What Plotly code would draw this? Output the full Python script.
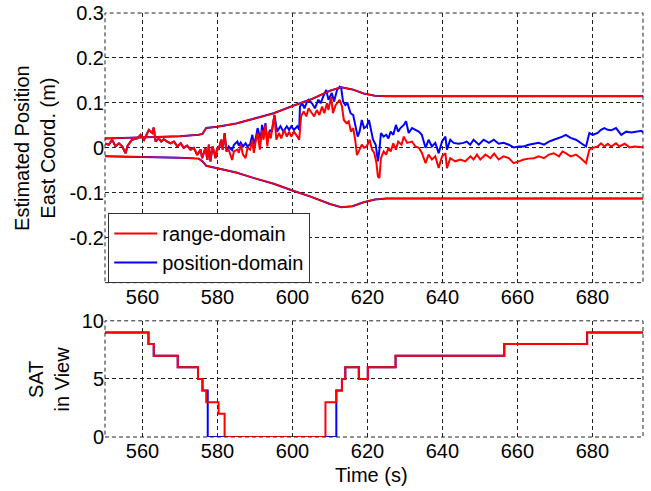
import plotly.graph_objects as go

# ---------------- data ----------------
# error bounds (shared by both methods)
bound_t = [550, 560, 570, 575, 576, 577, 580, 585, 590, 595, 600, 605, 610, 613, 616, 619, 622, 625, 693.5]
bound_upper = [0.021, 0.023, 0.026, 0.029, 0.031, 0.044, 0.047, 0.054, 0.065, 0.077, 0.093, 0.108, 0.127, 0.135, 0.130, 0.121, 0.116, 0.115, 0.115]
bound_lower = [-0.019, -0.020, -0.022, -0.024, -0.030, -0.040, -0.045, -0.055, -0.068, -0.080, -0.095, -0.109, -0.125, -0.132, -0.130, -0.121, -0.115, -0.113, -0.113]

# range-domain estimate
range_t = [550.0, 551.0, 551.9, 552.8, 553.7, 554.6, 555.5, 556.0, 557.2, 558.6, 559.5, 560.4, 561.3, 561.7,
           562.6, 563.0, 563.5, 564.4, 565.0, 565.7, 566.6, 567.5, 568.4, 569.3, 570.2, 571.0, 571.9, 572.8,
           573.7, 574.6, 575.5, 575.9, 576.8, 577.3, 577.7, 578.1, 578.7, 579.5, 579.9, 580.3, 581.0, 581.4,
           581.9, 582.4, 583.0, 583.9, 584.4, 585.3, 585.7, 586.2, 586.8, 587.5, 588.0, 588.7, 589.3, 589.7,
           590.2, 590.7, 591.3, 591.9, 592.3, 592.8, 593.3, 593.7, 594.2, 594.8, 595.2, 595.7, 596.4, 597.0,
           597.8, 598.5, 599.1, 599.7, 600.4, 601.3, 601.8, 602.3, 603.0, 603.7, 604.3, 605.2, 605.8, 606.5,
           607.2, 607.9, 608.5, 609.2, 609.6, 610.3, 610.8, 611.5, 612.1, 612.6, 613.2, 613.7, 614.4, 615.0,
           615.6, 616.2, 616.8, 617.2, 617.9, 618.5, 619.1, 619.8, 620.6, 621.2, 621.8, 622.4, 622.8, 623.2,
           623.6, 624.3, 625.0, 625.6, 626.2, 626.9, 627.6, 628.2, 629.1, 629.7, 630.6, 631.9, 632.8, 633.7,
           634.5, 635.5, 636.3, 637.2, 638.1, 639.0, 639.9, 640.8, 641.2, 642.1, 643.4, 644.8, 646.1, 647.5,
           648.3, 649.2, 650.1, 651.5, 652.8, 653.8, 655.0, 656.3, 657.7, 659.0, 660.4, 661.7, 663.0, 664.4,
           665.7, 667.1, 668.4, 669.7, 671.1, 672.0, 672.9, 674.2, 675.6, 676.9, 678.3, 679.2, 680.1, 681.4,
           682.3, 683.2, 684.1, 685.0, 686.3, 687.2, 688.6, 689.9, 691.2, 692.6, 693.5]
range_v = [0.010, 0.007, 0.018, 0.003, 0.010, 0.003, -0.012, 0.004, 0.018, 0.021, 0.029, 0.018, 0.033, 0.040,
           0.033, 0.045, 0.014, 0.021, 0.014, 0.019, 0.014, 0.010, 0.014, 0.003, 0.010, 0.000, 0.005, -0.004,
           0.000, -0.016, -0.004, -0.023, 0.000, -0.027, 0.007, -0.030, 0.003, -0.023, 0.000, -0.004, 0.018, -0.004,
           0.033, -0.008, -0.004, -0.027, -0.008, -0.004, -0.011, 0.007, -0.015, -0.023, 0.000, -0.004, 0.018, -0.011,
           0.014, 0.033, -0.004, 0.040, 0.018, 0.051, 0.003, 0.036, 0.021, 0.051, 0.073, 0.018, 0.033, 0.021,
           0.040, 0.025, 0.036, 0.025, 0.036, 0.025, 0.018, 0.070, 0.081, 0.070, 0.088, 0.077, 0.070, 0.084,
           0.073, 0.092, 0.077, 0.099, 0.084, 0.114, 0.077, 0.095, 0.103, 0.107, 0.092, 0.062, 0.055, 0.059,
           0.036, 0.044, 0.014, -0.016, -0.004, 0.007, 0.000, 0.003, 0.018, -0.004, -0.011, -0.034, -0.064, -0.067,
           -0.023, -0.008, -0.015, 0.000, -0.008, 0.010, -0.004, 0.014, 0.007, 0.025, 0.011, 0.014, 0.003, 0.000,
           -0.011, -0.034, -0.015, -0.026, -0.019, -0.045, -0.019, -0.012, -0.045, -0.023, -0.030, -0.026, -0.030, -0.019,
           -0.026, -0.015, -0.026, -0.015, -0.023, -0.013, -0.026, -0.019, -0.023, -0.034, -0.030, -0.026, -0.024, -0.023,
           -0.019, -0.023, -0.015, -0.012, -0.019, -0.008, -0.012, -0.019, -0.015, -0.023, -0.034, -0.004, 0.000, 0.003,
           0.010, 0.003, 0.009, 0.003, 0.010, 0.003, 0.009, 0.001, 0.003, 0.002, 0.001]

# position-domain estimate (identical to range-domain before 583 s)
pos_t_late = [583.0, 583.9, 584.4, 585.3, 585.7, 586.2, 586.8, 587.5, 588.0, 588.7, 589.3, 589.7, 590.2, 590.7,
              591.5, 591.9, 592.3, 592.8, 593.3, 594.0, 594.5, 595.2, 595.9, 596.8, 597.6, 598.5, 599.1, 599.7,
              600.4, 601.3, 601.8, 602.0, 602.6, 603.2, 603.9, 604.3, 605.2, 606.0, 606.9, 607.5, 608.2, 609.0,
              609.6, 610.5, 611.1, 611.9, 612.6, 613.0, 613.5, 614.1, 614.7, 615.5, 616.2, 616.8, 617.4, 617.9,
              618.5, 619.1, 619.8, 620.4, 620.9, 621.5, 622.2, 622.8, 623.2, 623.6, 624.3, 625.0, 625.6, 626.2,
              626.9, 627.6, 628.2, 628.8, 629.7, 630.3, 631.0, 631.9, 632.8, 633.7, 634.5, 635.5, 636.3, 637.2,
              638.1, 639.0, 639.9, 640.8, 641.2, 642.1, 643.0, 644.3, 645.6, 646.5, 647.4, 648.3, 649.7, 651.0,
              652.4, 653.7, 655.0, 656.3, 657.7, 659.0, 660.4, 661.7, 663.0, 664.4, 665.7, 667.1, 668.4, 669.7,
              671.1, 672.0, 672.9, 674.2, 675.6, 676.9, 678.3, 679.2, 680.1, 681.4, 682.3, 683.2, 684.1, 685.0,
              686.3, 687.7, 689.0, 690.4, 691.7, 693.1, 693.5]
pos_v_late = [0.003, -0.005, 0.007, 0.014, 0.005, 0.012, 0.003, 0.010, 0.003, 0.008, 0.029, 0.008, 0.021, 0.044,
              0.018, 0.051, 0.030, 0.055, 0.014, 0.040, 0.036, 0.073, 0.036, 0.048, 0.036, 0.048, 0.040, 0.048,
              0.040, 0.048, 0.040, 0.092, 0.099, 0.088, 0.103, 0.107, 0.099, 0.088, 0.107, 0.099, 0.114, 0.129,
              0.107, 0.122, 0.103, 0.129, 0.136, 0.133, 0.103, 0.095, 0.099, 0.077, 0.073, 0.051, 0.025, 0.036,
              0.062, 0.044, 0.048, 0.062, 0.044, 0.018, 0.007, -0.030, -0.004, 0.033, 0.025, 0.029, 0.021, 0.036,
              0.029, 0.051, 0.036, 0.044, 0.051, 0.059, 0.033, 0.044, 0.040, 0.036, 0.029, 0.000, 0.018, 0.003,
              0.011, -0.012, 0.014, 0.025, -0.004, 0.018, 0.011, 0.009, 0.011, 0.014, 0.007, 0.018, 0.007, 0.018,
              0.011, 0.018, 0.009, 0.011, 0.007, 0.001, 0.003, 0.003, 0.007, 0.009, 0.011, 0.007, 0.014, 0.018,
              0.022, 0.025, 0.029, 0.022, 0.018, 0.011, 0.003, 0.033, 0.029, 0.033, 0.040, 0.044, 0.040, 0.039,
              0.044, 0.029, 0.036, 0.034, 0.036, 0.038, 0.034]

# satellites in view (step changes)
sat_range_t = [550, 561.6, 563, 569.4, 574.8, 576, 577, 580.3, 581.9, 608.8, 611.7, 613.2, 614.1, 617.7, 620.1, 627.5, 656.5, 678.6, 693.5]
sat_range_n = [9, 8, 7, 6, 5, 4, 3, 2, 0, 3, 4, 5, 6, 5, 6, 7, 8, 9, 9]
sat_pos_t = [550, 561.6, 563, 569.4, 574.8, 576, 577.4, 611.7, 613.2, 614.1, 617.7, 620.1, 627.5, 656.5, 678.6, 693.5]
sat_pos_n = [9, 8, 7, 6, 5, 4, 0, 4, 5, 6, 5, 6, 7, 8, 9, 9]

x_ticks = [560, 580, 600, 620, 640, 660, 680]
y1_ticks = [-0.2, -0.1, 0, 0.1, 0.2, 0.3]
y1_labels = ["-0.2", "-0.1", "0", "0.1", "0.2", "0.3"]
y2_ticks = [0, 5, 10]

# ---------------- figure ----------------
RED = "#FF0000"
BLUE = "#0000FF"
FONT = "Arial, Liberation Sans, sans-serif"

early_n = sum(1 for t in range_t if t < 583.0)
pos_t = range_t[:early_n] + pos_t_late
pos_v = range_v[:early_n] + pos_v_late

fig = go.Figure()

# blue (drawn first, under red)
fig.add_trace(go.Scatter(x=bound_t, y=bound_upper, mode="lines", line=dict(color=BLUE, width=2),
                         showlegend=False, hoverinfo="skip", xaxis="x", yaxis="y"))
fig.add_trace(go.Scatter(x=bound_t, y=bound_lower, mode="lines", line=dict(color=BLUE, width=2),
                         showlegend=False, hoverinfo="skip", xaxis="x", yaxis="y"))
fig.add_trace(go.Scatter(x=pos_t, y=pos_v, mode="lines", line=dict(color=BLUE, width=2),
                         name="position-domain", legendrank=2, xaxis="x", yaxis="y"))
# red
fig.add_trace(go.Scatter(x=bound_t, y=bound_upper, mode="lines", line=dict(color=RED, width=1.5),
                         showlegend=False, hoverinfo="skip", xaxis="x", yaxis="y"))
fig.add_trace(go.Scatter(x=bound_t, y=bound_lower, mode="lines", line=dict(color=RED, width=1.5),
                         showlegend=False, hoverinfo="skip", xaxis="x", yaxis="y"))
fig.add_trace(go.Scatter(x=range_t, y=range_v, mode="lines", line=dict(color=RED, width=2),
                         name="range-domain", legendrank=1, xaxis="x", yaxis="y"))

# satellites
fig.add_trace(go.Scatter(x=sat_pos_t, y=sat_pos_n, mode="lines", line=dict(color=BLUE, width=2, shape="hv"),
                         showlegend=False, xaxis="x2", yaxis="y2"))
fig.add_trace(go.Scatter(x=sat_range_t, y=sat_range_n, mode="lines", line=dict(color=RED, width=2, shape="hv"),
                         showlegend=False, xaxis="x2", yaxis="y2"))

grid = dict(showgrid=True, gridcolor="#222222", gridwidth=1, griddash="4px,3px",
            zeroline=False, showline=False, ticks="inside", ticklen=4, tickcolor="#222222",
            automargin=False,
            tickfont=dict(family=FONT, size=20, color="black"))

fig.update_layout(
    width=651, height=491,
    margin=dict(l=105, r=8, t=13, b=54),
    paper_bgcolor="white", plot_bgcolor="white",
    font=dict(family=FONT, size=20, color="black"),
    xaxis=dict(domain=[0, 1], anchor="y", range=[550, 693.5], tickvals=x_ticks, **grid),
    yaxis=dict(domain=[0.364, 1], anchor="x", range=[-0.3, 0.3], tickvals=y1_ticks, ticktext=y1_labels, **grid),
    xaxis2=dict(domain=[0, 1], anchor="y2", range=[550, 693.5], tickvals=x_ticks, **grid),
    yaxis2=dict(domain=[0, 0.274], anchor="x2", range=[0, 10], tickvals=y2_ticks, **grid),
    legend=dict(x=0.006, y=0.363, xanchor="left", yanchor="bottom",
                bgcolor="white", bordercolor="#333333", borderwidth=1,
                font=dict(family=FONT, size=20, color="black"),
                tracegroupgap=0, itemwidth=43),
    showlegend=True,
)

# dashed frames
for xr, yr in [("x domain", "y domain"), ("x2 domain", "y2 domain")]:
    fig.add_shape(type="rect", xref=xr, yref=yr, x0=0, x1=1, y0=0, y1=1,
                  line=dict(color="#222222", width=1, dash="4px,3px"), layer="above")

# axis titles
fig.add_annotation(text="Estimated Position<br>East Coord. (m)", xref="paper", yref="paper",
                   x=-0.13, y=(0.364 + 1) / 2, xanchor="center", yanchor="middle", textangle=-90,
                   showarrow=False, font=dict(family=FONT, size=20, color="black"))
fig.add_annotation(text="SAT<br>in View", xref="paper", yref="paper",
                   x=-0.105, y=0.137, xanchor="center", yanchor="middle", textangle=-90,
                   showarrow=False, font=dict(family=FONT, size=20, color="black"))
fig.add_annotation(text="Time (s)", xref="paper", yref="paper",
                   x=0.495, y=-0.09, xanchor="center", yanchor="middle",
                   showarrow=False, font=dict(family=FONT, size=20, color="black"))

fig.write_html("out.html", config={"displayModeBar": False},
               post_script="document.body.style.margin='0px';document.body.style.padding='0px';")
